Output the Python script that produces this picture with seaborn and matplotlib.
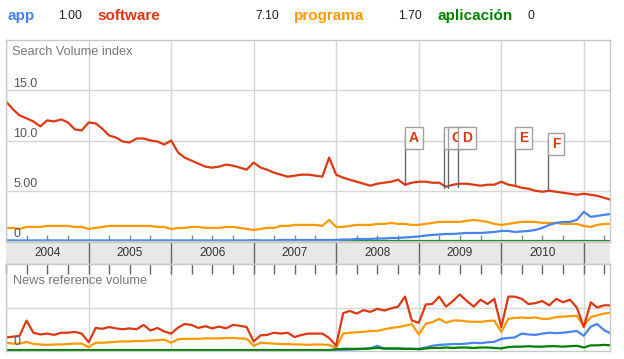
import pandas as pd
import numpy as np
import matplotlib
matplotlib.use('Agg')
import matplotlib.pyplot as plt
from matplotlib.transforms import ScaledTranslation
import seaborn as sns

# Terms and header values
terms = ['app', 'software', 'programa', 'aplicación']
term_values = ['1.00', '7.10', '1.70', '0']
colors = ['#4684ee', '#dc3912', '#ff9900', '#008000']

# Monthly samples, Jan 2004 .. May 2011
dates = pd.date_range('2004-01-01', periods=89, freq='MS')

# Search Volume index
app_search = [0.05, 0.05, 0.05, 0.05, 0.05, 0.05, 0.05, 0.05, 0.05, 0.05,
              0.05, 0.05, 0.05, 0.05, 0.05, 0.05, 0.05, 0.05, 0.05, 0.05,
              0.05, 0.05, 0.05, 0.06, 0.05, 0.05, 0.05, 0.05, 0.05, 0.05,
              0.05, 0.05, 0.05, 0.05, 0.05, 0.05, 0.08, 0.05, 0.05, 0.05,
              0.10, 0.10, 0.10, 0.10, 0.10, 0.10, 0.10, 0.10, 0.10, 0.15,
              0.15, 0.20, 0.20, 0.20, 0.25, 0.25, 0.30, 0.30, 0.35, 0.40,
              0.45, 0.55, 0.60, 0.65, 0.70, 0.70, 0.75, 0.80, 0.80, 0.80,
              0.85, 0.90, 1.00, 1.00, 0.90, 0.95, 1.00, 1.10, 1.30, 1.60,
              1.80, 1.90, 1.90, 2.10, 2.90, 2.40, 2.50, 2.60, 2.70]
software_search = [13.9, 13.1, 12.5, 12.2, 11.9, 11.4, 12.0, 11.9, 12.1, 11.8,
                   11.1, 11.0, 11.8, 11.7, 11.2, 10.5, 10.3, 9.9, 9.8, 10.2,
                   10.2, 10.0, 9.9, 9.6, 10.0, 8.8, 8.3, 8.0, 7.7, 7.4,
                   7.3, 7.4, 7.6, 7.5, 7.3, 7.1, 7.8, 7.3, 7.1, 6.8,
                   6.6, 6.4, 6.5, 6.6, 6.6, 6.5, 6.4, 8.3, 6.6, 6.3,
                   6.1, 5.9, 5.7, 5.5, 5.7, 5.8, 5.9, 6.1, 5.6, 5.8,
                   5.9, 5.9, 5.8, 5.8, 5.4, 5.6, 5.7, 5.7, 5.6, 5.5,
                   5.6, 5.6, 5.9, 5.6, 5.5, 5.3, 5.2, 5.0, 4.9, 5.0,
                   4.9, 4.8, 4.7, 4.6, 4.7, 4.6, 4.5, 4.3, 4.1]
programa_search = [1.3, 1.3, 1.2, 1.4, 1.4, 1.4, 1.5, 1.5, 1.5, 1.5,
                   1.4, 1.4, 1.2, 1.3, 1.4, 1.5, 1.5, 1.5, 1.5, 1.5,
                   1.5, 1.5, 1.4, 1.4, 1.2, 1.3, 1.3, 1.4, 1.4, 1.3,
                   1.3, 1.3, 1.4, 1.4, 1.3, 1.2, 1.1, 1.2, 1.3, 1.3,
                   1.5, 1.5, 1.6, 1.6, 1.6, 1.6, 1.5, 2.1, 1.4, 1.4,
                   1.5, 1.6, 1.6, 1.6, 1.7, 1.7, 1.8, 1.7, 1.7, 1.6,
                   1.6, 1.7, 1.8, 1.9, 1.9, 1.9, 1.9, 2.0, 2.1, 2.0,
                   1.9, 1.7, 1.6, 1.7, 1.8, 1.9, 1.9, 1.9, 1.8, 1.8,
                   1.8, 1.7, 1.7, 1.7, 1.5, 1.4, 1.6, 1.7, 1.7]
aplicacion_search = [0.0, 0.0, 0.0, 0.0, 0.0, 0.0, 0.0, 0.0, 0.0, 0.0,
                     0.0, 0.0, 0.0, 0.0, 0.0, 0.0, 0.0, 0.0, 0.0, 0.0,
                     0.0, 0.0, 0.0, 0.0, 0.0, 0.0, 0.0, 0.0, 0.0, 0.0,
                     0.0, 0.0, 0.0, 0.0, 0.0, 0.0, 0.0, 0.0, 0.0, 0.0,
                     0.0, 0.0, 0.0, 0.0, 0.0, 0.0, 0.0, 0.0, 0.0, 0.0,
                     0.0, 0.0, 0.0, 0.0, 0.0, 0.0, 0.0, 0.0, 0.0, 0.0,
                     0.0, 0.0, 0.0, 0.0, 0.0, 0.0, 0.0, 0.0, 0.0, 0.0,
                     0.0, 0.0, 0.0, 0.0, 0.0, 0.0, 0.0, 0.0, 0.0, 0.0,
                     0.0, 0.0, 0.0, 0.0, 0.0, 0.0, 0.0, 0.0, 0.0]

# News reference volume
app_news = [0.01, 0.01, 0.01, 0.01, 0.01, 0.01, 0.01, 0.01, 0.01, 0.01,
            0.01, 0.01, 0.01, 0.01, 0.01, 0.01, 0.01, 0.01, 0.01, 0.01,
            0.01, 0.01, 0.01, 0.01, 0.01, 0.01, 0.01, 0.01, 0.01, 0.01,
            0.01, 0.01, 0.01, 0.01, 0.01, 0.01, 0.01, 0.01, 0.01, 0.01,
            0.01, 0.01, 0.01, 0.01, 0.01, 0.01, 0.01, 0.01, 0.01, 0.02,
            0.03, 0.04, 0.05, 0.06, 0.12, 0.05, 0.05, 0.05, 0.05, 0.05,
            0.05, 0.08, 0.12, 0.14, 0.15, 0.16, 0.16, 0.17, 0.19, 0.18,
            0.20, 0.21, 0.28, 0.30, 0.31, 0.40, 0.38, 0.37, 0.40, 0.42,
            0.41, 0.42, 0.44, 0.46, 0.35, 0.56, 0.62, 0.48, 0.40]
software_news = [0.31, 0.33, 0.35, 0.70, 0.42, 0.38, 0.40, 0.37, 0.42, 0.42,
                 0.44, 0.40, 0.20, 0.53, 0.51, 0.55, 0.52, 0.50, 0.52, 0.50,
                 0.60, 0.47, 0.53, 0.45, 0.40, 0.54, 0.62, 0.60, 0.53, 0.57,
                 0.52, 0.56, 0.52, 0.60, 0.58, 0.55, 0.22, 0.36, 0.37, 0.42,
                 0.40, 0.42, 0.32, 0.37, 0.40, 0.40, 0.40, 0.30, 0.12, 0.87,
                 0.92, 0.86, 0.94, 0.90, 0.97, 0.93, 0.98, 1.02, 1.25, 0.70,
                 0.65, 1.07, 1.08, 1.25, 1.02, 1.15, 1.30, 1.15, 1.02, 1.18,
                 1.08, 1.20, 0.55, 1.25, 1.25, 1.20, 1.08, 1.10, 1.15, 1.05,
                 1.20, 1.12, 1.18, 1.00, 0.55, 1.12, 1.00, 1.05, 1.05]
programa_news = [0.19, 0.17, 0.17, 0.21, 0.16, 0.15, 0.14, 0.15, 0.15, 0.16,
                 0.17, 0.17, 0.09, 0.19, 0.19, 0.20, 0.21, 0.22, 0.22, 0.23,
                 0.23, 0.24, 0.25, 0.26, 0.19, 0.27, 0.28, 0.28, 0.28, 0.29,
                 0.29, 0.29, 0.30, 0.30, 0.29, 0.28, 0.12, 0.19, 0.18, 0.17,
                 0.16, 0.16, 0.15, 0.15, 0.14, 0.15, 0.15, 0.14, 0.07, 0.40,
                 0.42, 0.43, 0.44, 0.46, 0.46, 0.50, 0.53, 0.55, 0.58, 0.62,
                 0.38, 0.63, 0.66, 0.74, 0.65, 0.70, 0.70, 0.68, 0.67, 0.67,
                 0.69, 0.70, 0.44, 0.74, 0.76, 0.77, 0.76, 0.77, 0.74, 0.74,
                 0.78, 0.79, 0.80, 0.81, 0.58, 0.78, 0.82, 0.86, 0.88]
aplicacion_news = [0.02, 0.02, 0.02, 0.02, 0.02, 0.02, 0.02, 0.02, 0.02, 0.02,
                   0.02, 0.02, 0.02, 0.02, 0.02, 0.02, 0.02, 0.02, 0.02, 0.02,
                   0.02, 0.02, 0.02, 0.02, 0.02, 0.02, 0.02, 0.02, 0.02, 0.02,
                   0.02, 0.02, 0.02, 0.02, 0.02, 0.02, 0.02, 0.02, 0.02, 0.02,
                   0.02, 0.02, 0.02, 0.02, 0.02, 0.02, 0.02, 0.02, 0.04, 0.05,
                   0.05, 0.05, 0.05, 0.06, 0.07, 0.06, 0.06, 0.06, 0.05, 0.05,
                   0.04, 0.06, 0.07, 0.07, 0.08, 0.07, 0.08, 0.08, 0.07, 0.08,
                   0.08, 0.07, 0.06, 0.09, 0.10, 0.10, 0.11, 0.10, 0.10, 0.11,
                   0.11, 0.10, 0.11, 0.12, 0.08, 0.13, 0.13, 0.14, 0.13]

# News flags on the software line
flag_letters = ['A', 'B', 'C', 'D', 'E', 'F']
flag_dates = ['2008-11-01', '2009-04-22', '2009-05-10', '2009-06-24', '2010-03-03', '2010-07-27']
flag_values = [5.6, 5.3, 5.3, 5.4, 5.5, 5.1]
flag_tops = [11.3, 11.3, 11.3, 11.3, 11.3, 10.7]

years = list(range(2004, 2012))

sns.set_style('white')
plt.rcParams['font.family'] = ['Liberation Sans', 'DejaVu Sans']

W, H = 624, 359
fig = plt.figure(figsize=(W / 100, H / 100), dpi=100)

def box(left, top, right, bottom):
    return [left / W, 1 - bottom / H, (right - left) / W, (bottom - top) / H]

ax_top = fig.add_axes(box(6, 40, 610, 241))
ax_band = fig.add_axes(box(6, 242, 610, 264))
ax_news = fig.add_axes(box(6, 264, 610, 351))

search = pd.DataFrame({'date': dates, 'app': app_search, 'software': software_search,
                       'programa': programa_search, 'aplicación': aplicacion_search})
search = search.melt(id_vars='date', var_name='term', value_name='value')
news = pd.DataFrame({'date': dates, 'app': app_news, 'software': software_news,
                     'programa': programa_news, 'aplicación': aplicacion_news})
news = news.melt(id_vars='date', var_name='term', value_name='value')

pal = dict(zip(terms, colors))
sns.lineplot(data=search, x='date', y='value', hue='term',
             hue_order=['aplicación', 'programa', 'software', 'app'],
             palette=pal, legend=False, linewidth=1.6, ax=ax_top)
sns.lineplot(data=news, x='date', y='value', hue='term',
             hue_order=['app', 'programa', 'software', 'aplicación'],
             palette=pal, legend=False, linewidth=1.6, ax=ax_news)

xmin, xmax = pd.Timestamp('2004-01-01'), pd.Timestamp('2011-04-27')
year_ticks = [pd.Timestamp(f'{y}-01-01') for y in years]
quarter_ticks = [pd.Timestamp(f'{y}-{m:02d}-01') for y in years for m in (4, 7, 10)
                 if pd.Timestamp(f'{y}-{m:02d}-01') < xmax]

spine_c = '#c8c8c8'
grid_c = '#d6d6d6'

for ax in (ax_top, ax_band, ax_news):
    ax.set_xlim(xmin, xmax)
    ax.set_xlabel('')
    ax.set_ylabel('')
    for s in ax.spines.values():
        s.set_color(spine_c)
        s.set_linewidth(1)
    ax.set_xticks(year_ticks)
    ax.set_xticks(quarter_ticks, minor=True)
    ax.tick_params(which='both', labelbottom=False, labelleft=False, left=False)

# top panel
ax_top.set_ylim(0, 20)
ax_top.set_yticks([5, 10, 15])
ax_top.grid(True, which='major', color=grid_c, linewidth=1)
ax_top.tick_params(axis='x', which='major', length=0)
ax_top.tick_params(axis='x', which='minor', direction='in', length=4, width=1,
                   color='#888888', bottom=True, top=False)
ytrans = ax_top.get_yaxis_transform()
for v, lbl in [(15, '15.0'), (10, '10.0'), (5, '5.00'), (0, '0')]:
    ax_top.text(0.0125, v + 0.65, lbl, transform=ytrans, va='center', ha='left',
                fontsize=9, color='#555555')
ax_top.text(0.01, 0.94, 'Search Volume index', transform=ax_top.transAxes,
            va='center', ha='left', fontsize=9.2, color='#777777')

# flags (B and C are partly hidden behind the next flag, as in the source)
for letter, d, v, top in zip(flag_letters, flag_dates, flag_values, flag_tops):
    d = pd.Timestamp(d)
    ax_top.plot([d, d], [v, top - 0.5], color='#666666', linewidth=1, zorder=5)
    off = ScaledTranslation(2.8 / 72, -2.6 / 72, fig.dpi_scale_trans)
    ax_top.text(d, top, letter, transform=ax_top.transData + off, ha='left', va='top',
                fontsize=10, fontweight='bold', color=colors[1], zorder=6,
                bbox=dict(boxstyle='square,pad=0.28', facecolor='white',
                          edgecolor='#a0a0a0', linewidth=1))

# year band
ax_band.set_facecolor('#e8e8e8')
ax_band.set_ylim(0, 1)
ax_band.tick_params(axis='x', which='both', length=0)
for y0 in year_ticks[1:]:
    ax_band.axvline(y0, color='#666666', linewidth=1)
for y in years:
    mid = pd.Timestamp(f'{y}-07-02')
    if mid < xmax:
        ax_band.text(mid, 0.5, str(y), ha='center', va='center', fontsize=8.5, color='#333333')
ax_band.spines['left'].set_visible(False)
ax_band.spines['right'].set_visible(False)

# news panel
ax_news.set_ylim(0, 2)
ax_news.set_yticks([1])
ax_news.grid(True, which='major', color=grid_c, linewidth=1)
ax_news.tick_params(axis='x', which='both', direction='in', length=7, width=1,
                    color='#666666', top=True, bottom=False)
ax_news.text(0.012, 0.81, 'News reference volume', transform=ax_news.transAxes,
             va='center', ha='left', fontsize=9.2, color='#777777')
ax_news.text(0.012, 0.21, '0', transform=ax_news.get_yaxis_transform(),
             va='center', ha='left', fontsize=9, color='#555555')

# header
header_x = [(8, 58), (97, 255), (294, 398), (437, 528)]
for term, val, col, (tx, vx) in zip(terms, term_values, colors, header_x):
    fig.text(tx / W, 1 - 16 / H, term, color=col, fontsize=11, fontweight='bold',
             ha='left', va='center')
    fig.text(vx / W, 1 - 16 / H, val, color='#222222', fontsize=8.8,
             ha='left', va='center')

fig.savefig('out.png', dpi=100)
